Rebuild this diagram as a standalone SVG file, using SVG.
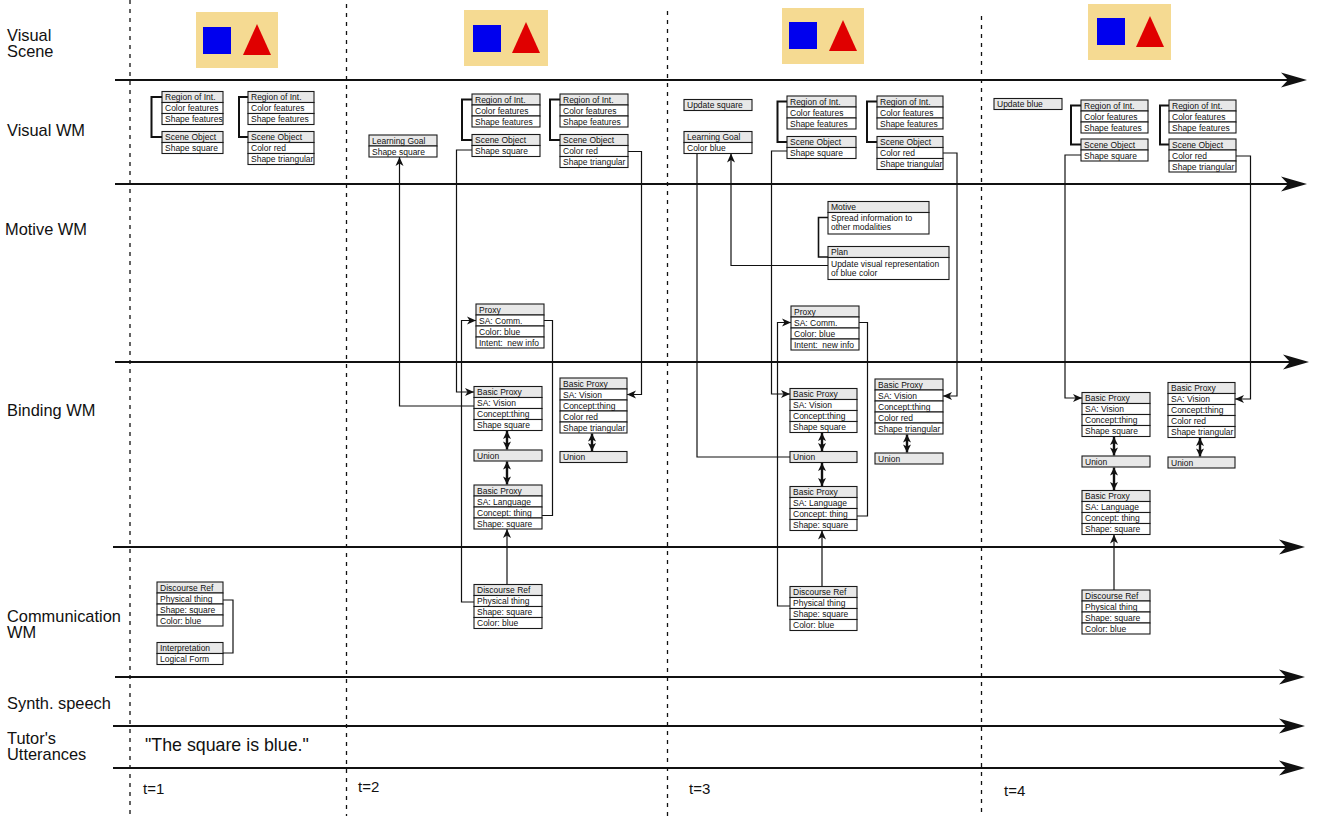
<svg xmlns="http://www.w3.org/2000/svg" width="1320" height="816" viewBox="0 0 1320 816">
<style>
.hd{fill:#e8e8e8;stroke:#1a1a1a;stroke-width:1.1}
.rw{fill:#fff;stroke:#1a1a1a;stroke-width:1.1}
.bt{font-family:"Liberation Sans",Arial,sans-serif;font-size:8.5px;fill:#111}
.lb{font-family:"Liberation Sans",Arial,sans-serif;font-size:16.4px;fill:#111}
.tl{font-family:"Liberation Sans",Arial,sans-serif;font-size:15px;fill:#111}
.ax{stroke:#111;stroke-width:2;fill:none}
.dv{stroke:#111;stroke-width:1.3;stroke-dasharray:4 5;fill:none}
.cn{stroke:#111;stroke-width:1.2;fill:none}
.br{stroke:#111;stroke-width:2;fill:none}
.db{stroke:#111;stroke-width:2.4;fill:none}
.bg{fill:#f5da92}
.sq{fill:#0000ee}
.tr{fill:#e00000}
</style>
<defs>
<marker id="big" viewBox="-20 -9 28 18" markerWidth="28" markerHeight="18" refX="0" refY="0" orient="auto" markerUnits="userSpaceOnUse">
<path d="M7,0 L-19,-7.5 L-12,0 L-19,7.5 Z" fill="#111"/>
</marker>
<marker id="ah" viewBox="-10 -5 11 10" markerWidth="11" markerHeight="10" refX="0" refY="0" orient="auto" markerUnits="userSpaceOnUse">
<path d="M0,0 L-9,-4 L-6.5,0 L-9,4 Z" fill="#111"/>
</marker>
<marker id="dh" viewBox="-10 -5 11 10" markerWidth="11" markerHeight="10" refX="0" refY="0" orient="auto-start-reverse" markerUnits="userSpaceOnUse">
<path d="M0,0 L-8,-4 L-6,0 L-8,4 Z" fill="#111"/>
</marker>
</defs>
<rect width="1320" height="816" fill="#fff"/>

<g id="scenes">
<rect class="bg" x="196" y="12" width="82" height="56"/>
<rect class="sq" x="203" y="27" width="28" height="27"/>
<polygon class="tr" points="257,24 243,55 271,55"/>
<rect class="bg" x="464" y="10" width="84" height="56"/>
<rect class="sq" x="473" y="25" width="28" height="27"/>
<polygon class="tr" points="526,22 512,53 540,53"/>
<rect class="bg" x="782" y="8" width="82" height="56"/>
<rect class="sq" x="789" y="22" width="28" height="27"/>
<polygon class="tr" points="843,20 829,51 857,51"/>
<rect class="bg" x="1088" y="4" width="83" height="56"/>
<rect class="sq" x="1097" y="18" width="28" height="27"/>
<polygon class="tr" points="1150,16 1136,47 1164,47"/>
</g>

<g id="grid">
<line class="dv" x1="130" y1="0" x2="130" y2="816"/>
<line class="dv" x1="346.5" y1="4" x2="346.5" y2="816"/>
<line class="dv" x1="667.5" y1="11" x2="667.5" y2="816"/>
<line class="dv" x1="981.5" y1="16" x2="981.5" y2="816"/>
<line class="ax" x1="115" y1="80" x2="1300" y2="80" marker-end="url(#big)"/>
<line class="ax" x1="115" y1="184" x2="1300" y2="184" marker-end="url(#big)"/>
<line class="ax" x1="115" y1="362" x2="1302" y2="362" marker-end="url(#big)"/>
<line class="ax" x1="113" y1="547" x2="1298" y2="547" marker-end="url(#big)"/>
<line class="ax" x1="115" y1="677" x2="1298" y2="677" marker-end="url(#big)"/>
<line class="ax" x1="113" y1="726" x2="1298" y2="726" marker-end="url(#big)"/>
<line class="ax" x1="113" y1="768" x2="1298" y2="768" marker-end="url(#big)"/>
</g>

<g id="labels">
<text class="lb" x="7" y="41">Visual</text>
<text class="lb" x="7" y="57">Scene</text>
<text class="lb" x="7" y="136">Visual WM</text>
<text class="lb" x="5" y="235">Motive WM</text>
<text class="lb" x="7" y="416">Binding WM</text>
<text class="lb" x="7" y="622">Communication</text>
<text class="lb" x="7" y="638">WM</text>
<text class="lb" x="7" y="709">Synth. speech</text>
<text class="lb" x="7" y="744">Tutor's</text>
<text class="lb" x="7" y="760">Utterances</text>
<text class="lb" x="145" y="751" style="font-size:17.8px">"The square is blue."</text>
<text class="tl" x="143" y="794">t=1</text>
<text class="tl" x="358" y="792">t=2</text>
<text class="tl" x="689" y="794">t=3</text>
<text class="tl" x="1004" y="796">t=4</text>
</g>

<g id="connectors">
<polyline class="br" points="162,97 151.5,97 151.5,137 162,137"/>
<polyline class="br" points="248,97 239,97 239,137 248,137"/>
<polyline class="br" points="472,99.5 462,99.5 462,140 472,140"/>
<polyline class="br" points="560,99.5 550,99.5 550,140 560,140"/>
<polyline class="br" points="787,101.5 777.5,101.5 777.5,142 787,142"/>
<polyline class="br" points="877,101.5 867,101.5 867,142 877,142"/>
<polyline class="br" points="1081,105.5 1071,105.5 1071,144.5 1081,144.5"/>
<polyline class="br" points="1169,105.5 1160,105.5 1160,144.5 1169,144.5"/>
<polyline class="cn" points="223,600 233,600 233,653 223,653"/>
<polyline class="cn" style="stroke-width:1.6" points="828,217.5 818.5,217.5 818.5,257 828,257"/>
<polyline class="cn" points="472,150 456.5,150 456.5,392 474,392" marker-end="url(#ah)"/>
<polyline class="cn" points="628,151.5 641.5,151.5 641.5,394.5 627,394.5" marker-end="url(#ah)"/>
<polyline class="cn" points="474,406 399.5,406 399.5,157" marker-end="url(#ah)"/>
<polyline class="cn" points="474,602 461.5,602 461.5,320.5 476,320.5" marker-end="url(#ah)"/>
<polyline class="cn" points="544,320.5 552.5,320.5 552.5,515.5 542,515.5"/>
<line class="db" x1="507" y1="431" x2="507" y2="449.5" marker-start="url(#dh)" marker-end="url(#dh)"/>
<line class="db" x1="507" y1="461.5" x2="507" y2="484.5" marker-start="url(#dh)" marker-end="url(#dh)"/>
<line class="db" x1="592" y1="433.5" x2="592" y2="451" marker-start="url(#dh)" marker-end="url(#dh)"/>
<line class="cn" x1="507" y1="584.5" x2="507" y2="529" marker-end="url(#ah)"/>
<polyline class="cn" points="787,151 771.5,151 771.5,394 790,394" marker-end="url(#ah)"/>
<polyline class="cn" points="943,153 957,153 957,396 943,396" marker-end="url(#ah)"/>
<polyline class="cn" points="697,153.5 697,457 790,457"/>
<polyline class="cn" points="828,265.5 731,265.5 731,153.5" marker-end="url(#ah)"/>
<polyline class="cn" points="790,606 777.5,606 777.5,322.5 791,322.5" marker-end="url(#ah)"/>
<polyline class="cn" points="859,322.5 867.5,322.5 867.5,516 857,516"/>
<line class="db" x1="822" y1="433" x2="822" y2="451" marker-start="url(#dh)" marker-end="url(#dh)"/>
<line class="db" x1="822" y1="463" x2="822" y2="486" marker-start="url(#dh)" marker-end="url(#dh)"/>
<line class="db" x1="907" y1="434.5" x2="907" y2="452.5" marker-start="url(#dh)" marker-end="url(#dh)"/>
<line class="cn" x1="822" y1="586.5" x2="822" y2="530.5" marker-end="url(#ah)"/>
<polyline class="cn" points="1081,155 1065,155 1065,398 1082,398" marker-end="url(#ah)"/>
<polyline class="cn" points="1236,156 1250.5,156 1250.5,399 1235,399" marker-end="url(#ah)"/>
<line class="db" x1="1114" y1="437" x2="1114" y2="455.5" marker-start="url(#dh)" marker-end="url(#dh)"/>
<line class="db" x1="1114" y1="467.5" x2="1114" y2="490" marker-start="url(#dh)" marker-end="url(#dh)"/>
<line class="db" x1="1200" y1="438" x2="1200" y2="456.5" marker-start="url(#dh)" marker-end="url(#dh)"/>
<line class="cn" x1="1114" y1="590" x2="1114" y2="534.5" marker-end="url(#ah)"/>
</g>

<g id="t1-roi-a">
<rect class="hd" x="162" y="91.5" width="61" height="11"/><rect class="rw" x="162" y="102.5" width="61" height="11"/><rect class="rw" x="162" y="113.5" width="61" height="11"/>
<text class="bt" x="165" y="100">Region of Int.</text><text class="bt" x="165" y="111">Color features</text><text class="bt" x="165" y="122">Shape features</text>
</g>
<g id="t1-so-a">
<rect class="hd" x="162" y="131.5" width="61" height="11"/><rect class="rw" x="162" y="142.5" width="61" height="11"/>
<text class="bt" x="165" y="140">Scene Object</text><text class="bt" x="165" y="151">Shape square</text>
</g>
<g id="t1-roi-b">
<rect class="hd" x="248" y="91.5" width="66" height="11"/><rect class="rw" x="248" y="102.5" width="66" height="11"/><rect class="rw" x="248" y="113.5" width="66" height="11"/>
<text class="bt" x="251" y="100">Region of Int.</text><text class="bt" x="251" y="111">Color features</text><text class="bt" x="251" y="122">Shape features</text>
</g>
<g id="t1-so-b">
<rect class="hd" x="248" y="131.5" width="66" height="11"/><rect class="rw" x="248" y="142.5" width="66" height="11"/><rect class="rw" x="248" y="153.5" width="66" height="11"/>
<text class="bt" x="251" y="140">Scene Object</text><text class="bt" x="251" y="151">Color red</text><text class="bt" x="251" y="162">Shape triangular</text>
</g>
<g id="t1-dr">
<rect class="hd" x="157" y="582" width="66" height="11"/><rect class="rw" x="157" y="593" width="66" height="11"/><rect class="rw" x="157" y="604" width="66" height="11"/><rect class="rw" x="157" y="615" width="66" height="11"/>
<text class="bt" x="160" y="590.5">Discourse Ref</text><text class="bt" x="160" y="601.5">Physical thing</text><text class="bt" x="160" y="612.5">Shape: square</text><text class="bt" x="160" y="623.5">Color: blue</text>
</g>
<g id="t1-interp">
<rect class="hd" x="157" y="642.5" width="66" height="11"/><rect class="rw" x="157" y="653.5" width="66" height="11"/>
<text class="bt" x="160" y="651">Interpretation</text><text class="bt" x="160" y="662">Logical Form</text>
</g>

<g id="t2-lg">
<rect class="hd" x="369" y="135" width="68" height="11"/><rect class="rw" x="369" y="146" width="68" height="11"/>
<text class="bt" x="372" y="143.5">Learning Goal</text><text class="bt" x="372" y="154.5">Shape square</text>
</g>
<g id="t2-roi-a">
<rect class="hd" x="472" y="94" width="68" height="11"/><rect class="rw" x="472" y="105" width="68" height="11"/><rect class="rw" x="472" y="116" width="68" height="11"/>
<text class="bt" x="475" y="102.5">Region of Int.</text><text class="bt" x="475" y="113.5">Color features</text><text class="bt" x="475" y="124.5">Shape features</text>
</g>
<g id="t2-so-a">
<rect class="hd" x="472" y="134.5" width="68" height="11"/><rect class="rw" x="472" y="145.5" width="68" height="11"/>
<text class="bt" x="475" y="143">Scene Object</text><text class="bt" x="475" y="154">Shape square</text>
</g>
<g id="t2-roi-b">
<rect class="hd" x="560" y="94" width="68" height="11"/><rect class="rw" x="560" y="105" width="68" height="11"/><rect class="rw" x="560" y="116" width="68" height="11"/>
<text class="bt" x="563" y="102.5">Region of Int.</text><text class="bt" x="563" y="113.5">Color features</text><text class="bt" x="563" y="124.5">Shape features</text>
</g>
<g id="t2-so-b">
<rect class="hd" x="560" y="134.5" width="68" height="11"/><rect class="rw" x="560" y="145.5" width="68" height="11"/><rect class="rw" x="560" y="156.5" width="68" height="11"/>
<text class="bt" x="563" y="143">Scene Object</text><text class="bt" x="563" y="154">Color red</text><text class="bt" x="563" y="165">Shape triangular</text>
</g>
<g id="t2-proxy">
<rect class="hd" x="476" y="304" width="68" height="11"/><rect class="rw" x="476" y="315" width="68" height="11"/><rect class="rw" x="476" y="326" width="68" height="11"/><rect class="rw" x="476" y="337" width="68" height="11"/>
<text class="bt" x="479" y="312.5">Proxy</text><text class="bt" x="479" y="323.5">SA: Comm.</text><text class="bt" x="479" y="334.5">Color: blue</text><text class="bt" x="479" y="345.5">Intent:&#160; new info</text>
</g>
<g id="t2-bp-a">
<rect class="hd" x="474" y="386.5" width="68" height="11"/><rect class="rw" x="474" y="397.5" width="68" height="11"/><rect class="rw" x="474" y="408.5" width="68" height="11"/><rect class="rw" x="474" y="419.5" width="68" height="11"/>
<text class="bt" x="477" y="395">Basic Proxy</text><text class="bt" x="477" y="406">SA: Vision</text><text class="bt" x="477" y="417">Concept:thing</text><text class="bt" x="477" y="428">Shape square</text>
</g>
<g id="t2-union-a">
<rect class="hd" x="474" y="450" width="68" height="11"/><text class="bt" x="477" y="458.5">Union</text>
</g>
<g id="t2-bpl">
<rect class="hd" x="474" y="485" width="68" height="11"/><rect class="rw" x="474" y="496" width="68" height="11"/><rect class="rw" x="474" y="507" width="68" height="11"/><rect class="rw" x="474" y="518" width="68" height="11"/>
<text class="bt" x="477" y="493.5">Basic Proxy</text><text class="bt" x="477" y="504.5">SA: Language</text><text class="bt" x="477" y="515.5">Concept: thing</text><text class="bt" x="477" y="526.5">Shape: square</text>
</g>
<g id="t2-bp-b">
<rect class="hd" x="560" y="378" width="67" height="11"/><rect class="rw" x="560" y="389" width="67" height="11"/><rect class="rw" x="560" y="400" width="67" height="11"/><rect class="rw" x="560" y="411" width="67" height="11"/><rect class="rw" x="560" y="422" width="67" height="11"/>
<text class="bt" x="563" y="386.5">Basic Proxy</text><text class="bt" x="563" y="397.5">SA: Vision</text><text class="bt" x="563" y="408.5">Concept:thing</text><text class="bt" x="563" y="419.5">Color red</text><text class="bt" x="563" y="430.5">Shape triangular</text>
</g>
<g id="t2-union-b">
<rect class="hd" x="560" y="451.5" width="67" height="11"/><text class="bt" x="563" y="460">Union</text>
</g>
<g id="t2-dr">
<rect class="hd" x="474" y="584.5" width="68" height="11"/><rect class="rw" x="474" y="595.5" width="68" height="11"/><rect class="rw" x="474" y="606.5" width="68" height="11"/><rect class="rw" x="474" y="617.5" width="68" height="11"/>
<text class="bt" x="477" y="593">Discourse Ref</text><text class="bt" x="477" y="604">Physical thing</text><text class="bt" x="477" y="615">Shape: square</text><text class="bt" x="477" y="626">Color: blue</text>
</g>

<g id="t3-update">
<rect class="hd" x="684" y="99.5" width="68" height="11"/><text class="bt" x="687" y="108">Update square</text>
</g>
<g id="t3-lg">
<rect class="hd" x="684" y="131.5" width="68" height="11"/><rect class="rw" x="684" y="142.5" width="68" height="11"/>
<text class="bt" x="687" y="140">Learning Goal</text><text class="bt" x="687" y="151">Color blue</text>
</g>
<g id="t3-roi-a">
<rect class="hd" x="787" y="96" width="69" height="11"/><rect class="rw" x="787" y="107" width="69" height="11"/><rect class="rw" x="787" y="118" width="69" height="11"/>
<text class="bt" x="790" y="104.5">Region of Int.</text><text class="bt" x="790" y="115.5">Color features</text><text class="bt" x="790" y="126.5">Shape features</text>
</g>
<g id="t3-so-a">
<rect class="hd" x="787" y="136.5" width="69" height="11"/><rect class="rw" x="787" y="147.5" width="69" height="11"/>
<text class="bt" x="790" y="145">Scene Object</text><text class="bt" x="790" y="156">Shape square</text>
</g>
<g id="t3-roi-b">
<rect class="hd" x="877" y="96" width="66" height="11"/><rect class="rw" x="877" y="107" width="66" height="11"/><rect class="rw" x="877" y="118" width="66" height="11"/>
<text class="bt" x="880" y="104.5">Region of Int.</text><text class="bt" x="880" y="115.5">Color features</text><text class="bt" x="880" y="126.5">Shape features</text>
</g>
<g id="t3-so-b">
<rect class="hd" x="877" y="136.5" width="66" height="11"/><rect class="rw" x="877" y="147.5" width="66" height="11"/><rect class="rw" x="877" y="158.5" width="66" height="11"/>
<text class="bt" x="880" y="145">Scene Object</text><text class="bt" x="880" y="156">Color red</text><text class="bt" x="880" y="167">Shape triangular</text>
</g>
<g id="t3-motive">
<rect class="hd" x="828" y="201.5" width="101" height="11"/><rect class="rw" x="828" y="212.5" width="101" height="21.5"/>
<text class="bt" x="831" y="210">Motive</text><text class="bt" x="831" y="221">Spread information to</text><text class="bt" x="831" y="229.5">other modalities</text>
</g>
<g id="t3-plan">
<rect class="hd" x="828" y="246.5" width="121" height="11"/><rect class="rw" x="828" y="257.5" width="121" height="22"/>
<text class="bt" x="831" y="255">Plan</text><text class="bt" x="831" y="267">Update visual representation</text><text class="bt" x="831" y="275.5">of blue color</text>
</g>
<g id="t3-proxy">
<rect class="hd" x="791" y="306" width="68" height="11"/><rect class="rw" x="791" y="317" width="68" height="11"/><rect class="rw" x="791" y="328" width="68" height="11"/><rect class="rw" x="791" y="339" width="68" height="11"/>
<text class="bt" x="794" y="314.5">Proxy</text><text class="bt" x="794" y="325.5">SA: Comm.</text><text class="bt" x="794" y="336.5">Color: blue</text><text class="bt" x="794" y="347.5">Intent:&#160; new info</text>
</g>
<g id="t3-bp-a">
<rect class="hd" x="790" y="388.5" width="67" height="11"/><rect class="rw" x="790" y="399.5" width="67" height="11"/><rect class="rw" x="790" y="410.5" width="67" height="11"/><rect class="rw" x="790" y="421.5" width="67" height="11"/>
<text class="bt" x="793" y="397">Basic Proxy</text><text class="bt" x="793" y="408">SA: Vision</text><text class="bt" x="793" y="419">Concept:thing</text><text class="bt" x="793" y="430">Shape square</text>
</g>
<g id="t3-union-a">
<rect class="hd" x="790" y="451.5" width="67" height="11"/><text class="bt" x="793" y="460">Union</text>
</g>
<g id="t3-bpl">
<rect class="hd" x="790" y="486.5" width="67" height="11"/><rect class="rw" x="790" y="497.5" width="67" height="11"/><rect class="rw" x="790" y="508.5" width="67" height="11"/><rect class="rw" x="790" y="519.5" width="67" height="11"/>
<text class="bt" x="793" y="495">Basic Proxy</text><text class="bt" x="793" y="506">SA: Language</text><text class="bt" x="793" y="517">Concept: thing</text><text class="bt" x="793" y="528">Shape: square</text>
</g>
<g id="t3-bp-b">
<rect class="hd" x="875" y="379" width="68" height="11"/><rect class="rw" x="875" y="390" width="68" height="11"/><rect class="rw" x="875" y="401" width="68" height="11"/><rect class="rw" x="875" y="412" width="68" height="11"/><rect class="rw" x="875" y="423" width="68" height="11"/>
<text class="bt" x="878" y="387.5">Basic Proxy</text><text class="bt" x="878" y="398.5">SA: Vision</text><text class="bt" x="878" y="409.5">Concept:thing</text><text class="bt" x="878" y="420.5">Color red</text><text class="bt" x="878" y="431.5">Shape triangular</text>
</g>
<g id="t3-union-b">
<rect class="hd" x="875" y="453" width="68" height="11"/><text class="bt" x="878" y="461.5">Union</text>
</g>
<g id="t3-dr">
<rect class="hd" x="790" y="586.5" width="67" height="11"/><rect class="rw" x="790" y="597.5" width="67" height="11"/><rect class="rw" x="790" y="608.5" width="67" height="11"/><rect class="rw" x="790" y="619.5" width="67" height="11"/>
<text class="bt" x="793" y="595">Discourse Ref</text><text class="bt" x="793" y="606">Physical thing</text><text class="bt" x="793" y="617">Shape: square</text><text class="bt" x="793" y="628">Color: blue</text>
</g>

<g id="t4-update">
<rect class="hd" x="994" y="98.5" width="68" height="11"/><text class="bt" x="997" y="107">Update blue</text>
</g>
<g id="t4-roi-a">
<rect class="hd" x="1081" y="100" width="67" height="11"/><rect class="rw" x="1081" y="111" width="67" height="11"/><rect class="rw" x="1081" y="122" width="67" height="11"/>
<text class="bt" x="1084" y="108.5">Region of Int.</text><text class="bt" x="1084" y="119.5">Color features</text><text class="bt" x="1084" y="130.5">Shape features</text>
</g>
<g id="t4-so-a">
<rect class="hd" x="1081" y="139" width="67" height="11"/><rect class="rw" x="1081" y="150" width="67" height="11"/>
<text class="bt" x="1084" y="147.5">Scene Object</text><text class="bt" x="1084" y="158.5">Shape square</text>
</g>
<g id="t4-roi-b">
<rect class="hd" x="1169" y="100" width="67" height="11"/><rect class="rw" x="1169" y="111" width="67" height="11"/><rect class="rw" x="1169" y="122" width="67" height="11"/>
<text class="bt" x="1172" y="108.5">Region of Int.</text><text class="bt" x="1172" y="119.5">Color features</text><text class="bt" x="1172" y="130.5">Shape features</text>
</g>
<g id="t4-so-b">
<rect class="hd" x="1169" y="139" width="67" height="11"/><rect class="rw" x="1169" y="150" width="67" height="11"/><rect class="rw" x="1169" y="161" width="67" height="11"/>
<text class="bt" x="1172" y="147.5">Scene Object</text><text class="bt" x="1172" y="158.5">Color red</text><text class="bt" x="1172" y="169.5">Shape triangular</text>
</g>
<g id="t4-bp-a">
<rect class="hd" x="1082" y="392.5" width="68" height="11"/><rect class="rw" x="1082" y="403.5" width="68" height="11"/><rect class="rw" x="1082" y="414.5" width="68" height="11"/><rect class="rw" x="1082" y="425.5" width="68" height="11"/>
<text class="bt" x="1085" y="401">Basic Proxy</text><text class="bt" x="1085" y="412">SA: Vision</text><text class="bt" x="1085" y="423">Concept:thing</text><text class="bt" x="1085" y="434">Shape square</text>
</g>
<g id="t4-union-a">
<rect class="hd" x="1082" y="456" width="68" height="11"/><text class="bt" x="1085" y="464.5">Union</text>
</g>
<g id="t4-bpl">
<rect class="hd" x="1082" y="490.5" width="68" height="11"/><rect class="rw" x="1082" y="501.5" width="68" height="11"/><rect class="rw" x="1082" y="512.5" width="68" height="11"/><rect class="rw" x="1082" y="523.5" width="68" height="11"/>
<text class="bt" x="1085" y="499">Basic Proxy</text><text class="bt" x="1085" y="510">SA: Language</text><text class="bt" x="1085" y="521">Concept: thing</text><text class="bt" x="1085" y="532">Shape: square</text>
</g>
<g id="t4-bp-b">
<rect class="hd" x="1168" y="382.5" width="67" height="11"/><rect class="rw" x="1168" y="393.5" width="67" height="11"/><rect class="rw" x="1168" y="404.5" width="67" height="11"/><rect class="rw" x="1168" y="415.5" width="67" height="11"/><rect class="rw" x="1168" y="426.5" width="67" height="11"/>
<text class="bt" x="1171" y="391">Basic Proxy</text><text class="bt" x="1171" y="402">SA: Vision</text><text class="bt" x="1171" y="413">Concept:thing</text><text class="bt" x="1171" y="424">Color red</text><text class="bt" x="1171" y="435">Shape triangular</text>
</g>
<g id="t4-union-b">
<rect class="hd" x="1168" y="457" width="67" height="11"/><text class="bt" x="1171" y="465.5">Union</text>
</g>
<g id="t4-dr">
<rect class="hd" x="1082" y="590" width="68" height="11"/><rect class="rw" x="1082" y="601" width="68" height="11"/><rect class="rw" x="1082" y="612" width="68" height="11"/><rect class="rw" x="1082" y="623" width="68" height="11"/>
<text class="bt" x="1085" y="598.5">Discourse Ref</text><text class="bt" x="1085" y="609.5">Physical thing</text><text class="bt" x="1085" y="620.5">Shape: square</text><text class="bt" x="1085" y="631.5">Color: blue</text>
</g>
</svg>
